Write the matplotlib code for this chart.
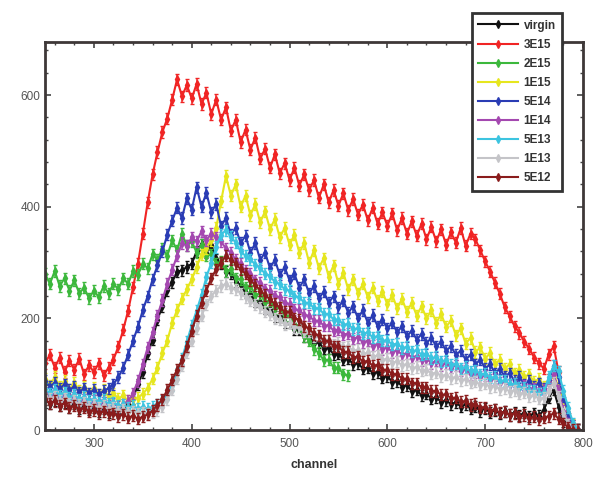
import matplotlib
matplotlib.use("Agg")
import matplotlib.pyplot as plt
from matplotlib.ticker import MultipleLocator

plt.rcParams["font.family"] = ["Liberation Sans", "DejaVu Sans"]

# channel axis, 5-channel steps from 250 to 795
channels = list(range(250, 800, 5))

virgin = [
    55, 47, 53, 44, 50, 41, 48, 39, 45, 37,
    41, 34, 39, 32, 37, 31, 39, 46, 57, 82,
    104, 138, 162, 198, 222, 251, 265, 284, 286, 292,
    298, 320, 333, 318, 332, 306, 298, 284, 281, 266,
    260, 246, 244, 231, 230, 218, 217, 204, 204, 192,
    192, 181, 180, 168, 168, 156, 157, 146, 147, 136,
    137, 126, 128, 118, 120, 110, 112, 102, 104, 94,
    97, 86, 88, 78, 80, 70, 72, 62, 65, 56,
    59, 50, 54, 46, 50, 42, 46, 38, 42, 34,
    39, 31, 36, 29, 34, 27, 32, 26, 31, 25,
    30, 26, 36, 58, 72, 42, 16, 5, 0, 0,
]
d3e15 = [
    120, 135, 112, 130, 104, 124, 108, 128, 100, 116,
    104, 120, 98, 112, 126, 150, 180, 214, 256, 298,
    352, 408, 458, 498, 534, 558, 592, 628, 598, 618,
    594, 620, 584, 604, 566, 592, 556, 578, 536, 556,
    516, 538, 502, 524, 486, 504, 470, 494, 460, 478,
    448, 470, 438, 458, 430, 448, 416, 440, 408, 430,
    402, 424, 394, 414, 386, 404, 376, 398, 370, 390,
    366, 388, 358, 380, 352, 374, 348, 370, 342, 364,
    338, 360, 332, 354, 336, 362, 330, 352, 342, 322,
    302, 284, 264, 244, 220, 204, 186, 174, 158, 146,
    130, 120, 110, 136, 150, 104, 60, 30, 8, 0,
]
# 2E15 only runs up to channel 560
d2e15 = [
    280, 262, 285, 258, 272, 250, 268, 245, 255, 236,
    250, 238, 258, 245, 262, 252, 272, 262, 285, 278,
    298, 290, 315, 305, 325, 312, 340, 322, 352, 330,
    338, 318, 332, 312, 315, 298, 302, 285, 288, 272,
    270, 256, 258, 242, 245, 230, 232, 218, 220, 205,
    205, 190, 185, 168, 160, 145, 138, 125, 126, 112,
    112, 100, 98,
]
d1e15 = [
    92, 80, 95, 78, 88, 72, 85, 70, 78, 66,
    76, 64, 72, 60, 66, 56, 62, 52, 56, 58,
    65, 75, 92, 112, 138, 160, 192, 215, 235, 252,
    270, 292, 315, 326, 340, 362, 410, 455, 420, 440,
    400, 420, 385, 405, 372, 392, 360, 378, 345, 362,
    332, 350, 318, 335, 300, 322, 290, 308, 275, 295,
    262, 282, 252, 270, 245, 262, 238, 255, 232, 248,
    225, 242, 218, 235, 212, 228, 205, 222, 200, 215,
    192, 208, 185, 196, 170, 182, 155, 165, 140, 148,
    128, 138, 118, 126, 110, 118, 102, 108, 95, 100,
    86, 92, 78, 90, 95, 80, 55, 30, 10, 0,
]
d5e14 = [
    88, 78, 85, 74, 82, 72, 78, 68, 75, 66,
    72, 64, 70, 75, 82, 95, 112, 135, 160, 185,
    215, 240, 270, 295, 320, 350, 375, 398, 380, 415,
    395, 435, 400, 425, 390, 405, 365, 380, 350, 362,
    335, 348, 318, 335, 305, 318, 290, 305, 278, 292,
    268, 280, 255, 270, 245, 258, 236, 248, 228, 240,
    220, 232, 210, 222, 200, 215, 192, 206, 186, 198,
    182, 192, 175, 186, 168, 178, 162, 172, 156, 165,
    150, 158, 142, 150, 135, 142, 126, 135, 118, 126,
    110, 118, 102, 110, 96, 102, 88, 95, 82, 88,
    78, 84, 74, 90, 115, 95, 60, 30, 8, 0,
]
d1e14 = [
    68, 60, 65, 56, 62, 54, 58, 50, 55, 48,
    52, 46, 50, 44, 48, 42, 46, 52, 66, 88,
    118, 148, 175, 205, 233, 262, 287, 312, 335, 330,
    345, 338, 356, 340, 352, 345, 338, 325, 318, 305,
    298, 285, 280, 268, 264, 252, 250, 240, 238, 228,
    226, 216, 215, 206, 205, 196, 196, 187, 188, 178,
    180, 171, 173, 164, 166, 157, 160, 151, 154, 145,
    148, 140, 143, 135, 138, 130, 133, 125, 128, 120,
    124, 116, 120, 112, 116, 106, 110, 100, 104, 95,
    98, 90, 93, 85, 88, 80, 84, 76, 80, 72,
    75, 68, 72, 85, 100, 70, 35, 12, 0, 0,
]
d5e13 = [
    74, 66, 72, 62, 68, 58, 64, 55, 60, 52,
    56, 50, 54, 47, 50, 44, 46, 40, 44, 38,
    42, 38, 42, 46, 52, 64, 80, 102, 128, 158,
    188, 214, 242, 274, 300, 328, 350, 358, 346, 336,
    320, 312, 306, 296, 290, 280, 276, 265, 262, 252,
    250, 240, 238, 228, 228, 218, 218, 208, 208, 198,
    198, 189, 190, 181, 182, 173, 175, 166, 168, 160,
    161, 153, 155, 147, 149, 141, 143, 135, 137, 129,
    131, 123, 125, 117, 119, 111, 113, 105, 107, 100,
    101, 94, 95, 88, 89, 82, 83, 76, 77, 70,
    71, 65, 68, 95, 115, 105, 70, 40, 12, 0,
]
d1e13 = [
    62, 56, 60, 52, 57, 48, 53, 45, 50, 42,
    46, 40, 43, 37, 40, 34, 37, 32, 34, 30,
    32, 30, 32, 36, 42, 55, 72, 92, 115, 140,
    160, 182, 205, 225, 240, 250, 258, 262, 255, 252,
    245, 238, 232, 225, 220, 212, 208, 200, 198, 190,
    192, 184, 184, 176, 176, 168, 169, 161, 162, 154,
    156, 148, 150, 142, 144, 136, 139, 131, 134, 126,
    128, 121, 123, 116, 118, 111, 113, 106, 108, 101,
    103, 97, 99, 93, 95, 89, 91, 85, 87, 81,
    83, 77, 79, 73, 75, 69, 71, 65, 67, 61,
    62, 56, 58, 70, 85, 60, 30, 10, 0, 0,
]
d5e12 = [
    55, 48, 52, 44, 48, 40, 44, 36, 40, 33,
    36, 30, 34, 28, 30, 25, 28, 22, 26, 20,
    24, 28, 35, 45, 55, 72, 90, 108, 125, 150,
    178, 205, 228, 250, 272, 288, 300, 312, 305, 298,
    288, 280, 268, 260, 250, 242, 234, 226, 220, 212,
    212, 200, 198, 186, 182, 172, 170, 160, 160, 150,
    150, 140, 140, 130, 132, 122, 124, 115, 117, 108,
    108, 100, 100, 92, 92, 84, 84, 77, 77, 70,
    70, 63, 64, 57, 58, 51, 52, 45, 47, 40,
    41, 35, 37, 31, 33, 27, 30, 24, 27, 21,
    24, 19, 22, 25, 30, 20, 12, 5, 0, 0,
]

series = [
    ("virgin", virgin, "#111111"),
    ("3E15", d3e15, "#f02424"),
    ("2E15", d2e15, "#3cb83c"),
    ("1E15", d1e15, "#e6e61e"),
    ("5E14", d5e14, "#2a3cb4"),
    ("1E14", d1e14, "#a448b0"),
    ("5E13", d5e13, "#3cc4e0"),
    ("1E13", d1e13, "#c4c4c8"),
    ("5E12", d5e12, "#8a1c1c"),
]

fig = plt.figure(figsize=(5.96, 4.8), dpi=100)
fig.patch.set_facecolor("white")
ax = fig.add_axes([0.0755, 0.104, 0.9027, 0.8083])

for label, values, color in series:
    x = channels[: len(values)]
    ax.errorbar(x, values, yerr=10, fmt="none", ecolor=color,
                elinewidth=1.1, capsize=1.2)
    ax.plot(x, values, color=color, marker="d", markersize=3.6,
            linewidth=1.5, label=label)

ax.set_xlim(250, 800)
ax.set_ylim(0, 695)
ax.set_xticks([300, 400, 500, 600, 700, 800])
ax.set_yticks([0, 200, 400, 600])
ax.xaxis.set_minor_locator(MultipleLocator(20))
ax.yaxis.set_minor_locator(MultipleLocator(40))
ax.tick_params(which="both", direction="in", top=True, right=True,
               color="#444444", labelsize=8.5, labelcolor="#555555")
ax.tick_params(which="major", length=4, width=1.2)
ax.tick_params(which="minor", length=2.5, width=1)
ax.tick_params(axis="x", pad=6)

for side in ["top", "right", "left", "bottom"]:
    ax.spines[side].set_color("#3e3838")
    ax.spines[side].set_linewidth(2)

ax.set_xlabel("channel", fontsize=9, fontweight="bold", color="#333333", labelpad=6)

leg = ax.legend(
    loc="upper left",
    bbox_to_anchor=(0.782, 1.09),
    prop={"weight": "bold", "size": 8.5},
    handlelength=3.4,
    handletextpad=0.45,
    labelspacing=0.6,
    borderpad=0.55,
    fancybox=False,
    framealpha=1,
    edgecolor="#333333",
)
leg.get_frame().set_linewidth(2)
for t in leg.get_texts():
    t.set_color("#333333")

plt.savefig("out.png", dpi=100)
